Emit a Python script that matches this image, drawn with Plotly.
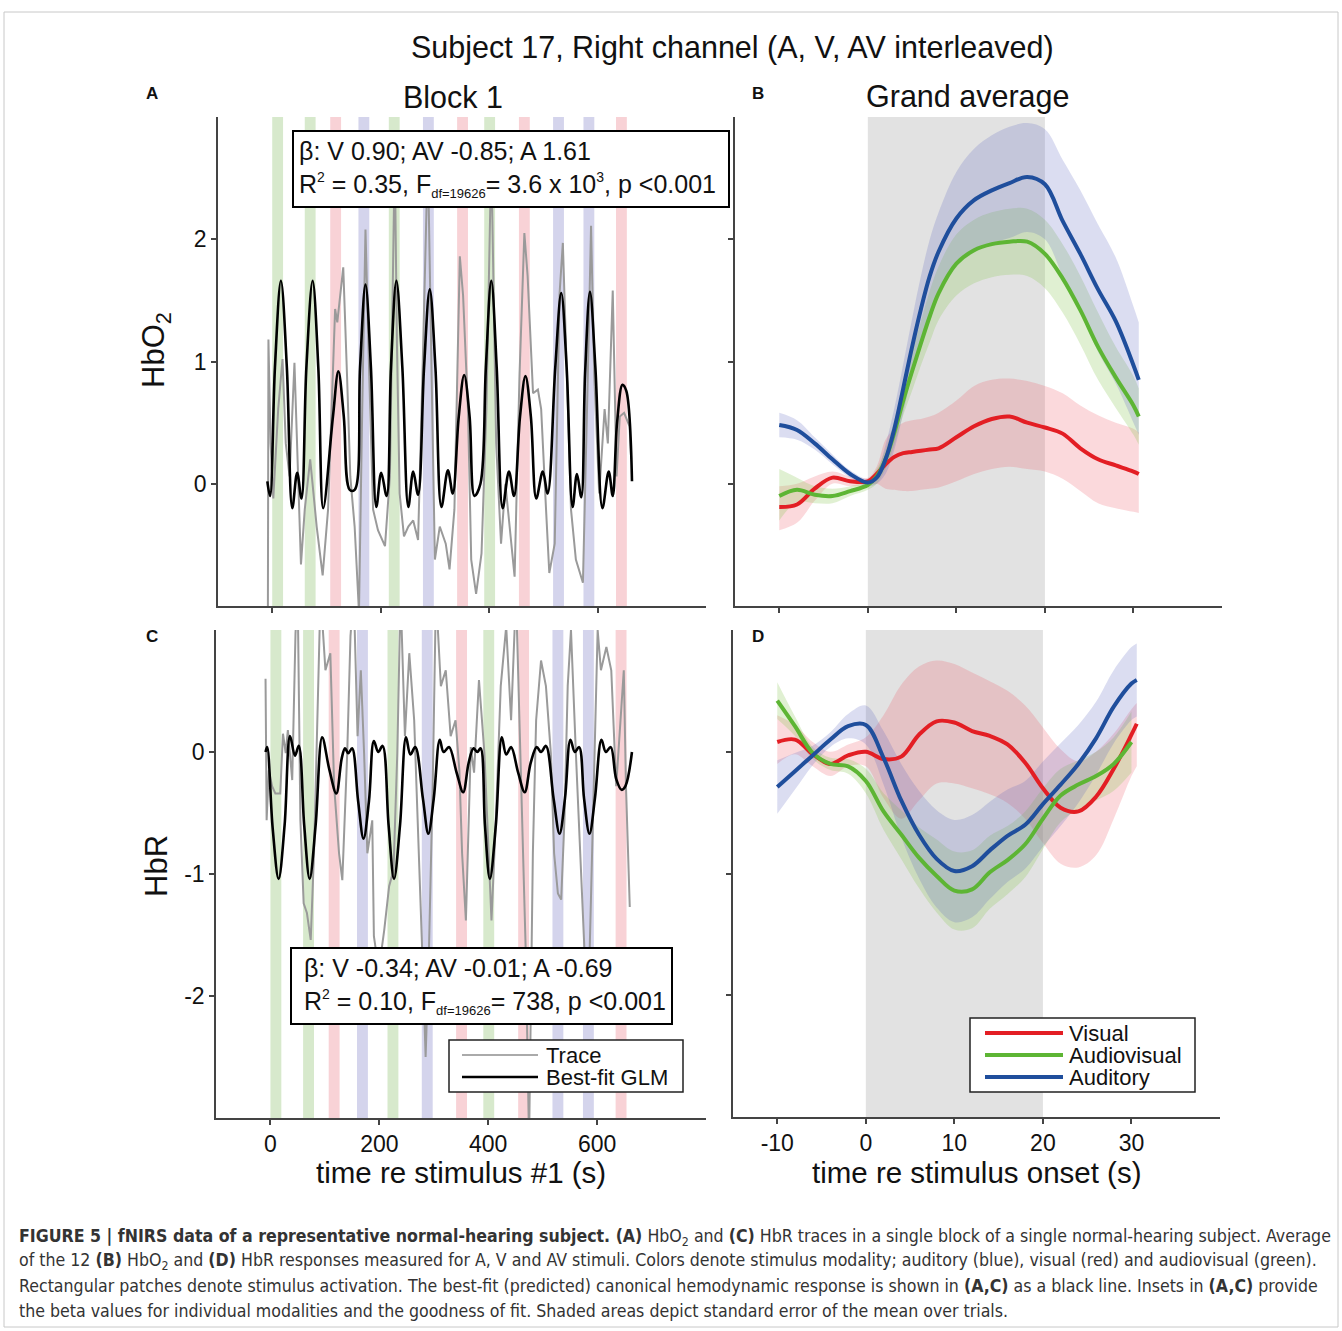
import plotly.graph_objects as go

W, H = 1342, 1331
FONT = "Liberation Sans, Arial, sans-serif"
NARROW = "DejaVu Sans Condensed, Liberation Sans Narrow, sans-serif"

# ---------------- data ----------------
# stimulus onsets (s) and modality for block 1
stim_onsets = [0, 60, 107, 159, 215, 278, 341, 391, 455, 518, 574, 634]
stim_modality = ["AV", "AV", "V", "A", "AV", "A", "V", "AV", "V", "A", "A", "V"]
stim_duration = 20

# Panel A: HbO2 trace and best-fit GLM
tA_trace = [-8, -7, -3, 2, 11, 19, 25, 32, 41, 46, 53, 60, 70, 82, 93, 103, 116, 120, 131, 138,
            144, 152, 160, 166, 172, 179, 186, 195, 208, 217, 226, 230, 235, 243, 251, 260, 269,
            277, 287, 294, 300, 309, 320, 327, 336, 346, 352, 361, 367, 376, 386, 395, 404, 413,
            422, 430, 438, 447, 456, 465, 471, 481, 490, 496, 505, 511, 521, 530, 536, 542, 551,
            560, 573, 582, 588, 594, 603, 613, 619, 628, 635, 641, 649, 659, 662]
A_trace = [-1.05, 1.18, 0.33, -0.12, 0.61, 1.02, 0.33, 0.06, 0.99, 0.33, -0.66, -0.21, 0.20,
           -0.35, -0.75, -0.21, 1.43, 1.32, 1.77, 0.88, 0.06, -0.35, -1.05, 0.61, 2.08, 0.88,
           -0.21, -0.38, -0.51, 0.06, 2.70, 1.15, -0.08, -0.43, -0.35, -0.30, -0.46, 0.88, 2.70,
           0.88, -0.62, -0.35, -0.49, -0.70, -0.21, 1.86, 1.54, 0.61, -0.62, -0.90, -0.57, 0.61,
           2.70, 0.33, -0.49, 0.00, -0.35, -0.76, 0.88, 2.05, 1.70, 0.74, 0.77, 0.61, -0.21,
           -0.73, -0.49, 1.56, 1.97, 1.15, -0.21, -0.62, -0.81, 0.88, 2.11, 0.88, -0.08, 0.61,
           0.33, 1.58, 0.06, 0.55, 0.58, 0.47, 0.20]
tA_fit = [-9, -4, 5, 16, 27, 37, 46, 54, 63, 74.5, 85, 94, 112, 122, 132, 143, 152, 162, 172, 182,
          192, 201, 211, 219, 229, 240, 251, 260, 269, 280, 290.5, 301, 312, 324, 333, 344, 354,
          364, 373, 384, 394, 404, 414, 425, 436.5, 446, 457, 467, 477, 487, 499, 508, 522, 533,
          543, 554, 562, 570, 577, 586, 596, 609, 620.5, 628, 636, 646, 653, 663.5]
A_fit = [0.02, -0.10, 0.95, 1.66, 0.95, -0.20, 0.09, -0.12, 0.95, 1.66, 0.95, -0.20, 0.55, 0.92,
         0.55, -0.05, -0.05, 0.95, 1.63, 0.95, -0.19, 0.09, -0.10, 0.95, 1.66, 0.95, -0.19, 0.10,
         -0.09, 0.95, 1.59, 0.95, -0.19, 0.11, -0.08, 0.55, 0.89, 0.55, -0.10, 0.00, 0.95, 1.66,
         0.95, -0.20, 0.10, -0.10, 0.55, 0.88, 0.55, -0.12, 0.10, -0.08, 0.95, 1.56, 0.95, -0.19,
         0.08, -0.11, 0.90, 1.57, 0.95, -0.20, 0.10, -0.10, 0.50, 0.81, 0.76, 0.02]

# Panel C: HbR trace and best-fit GLM
tC_trace = [-9, -7, -3, 3, 9, 18, 23, 28, 32, 40, 46, 50, 55, 61, 67, 74, 80, 86, 92, 101, 110,
            117, 126, 132, 136, 141, 147, 153, 160, 166, 172, 178, 187, 190, 199, 209, 218, 226,
            233, 239, 247, 255, 264, 273, 281, 285, 291, 298, 304, 313, 322, 331, 340, 347, 352,
            359, 368, 374, 383, 393, 400, 406, 414, 423, 433, 442, 451, 457, 463, 469, 475, 482,
            488, 497, 506, 515, 521, 528, 534, 540, 546, 552, 561, 571, 577, 583, 589, 595, 601,
            607, 617, 626, 635, 643, 649, 653, 660]
C_trace = [0.60, -0.56, -0.15, -0.28, -0.34, -0.34, 0.15, -0.01, 0.18, -0.23, 0.97, 1.30, -0.56,
           -1.24, -1.32, -1.54, -0.83, 0.26, 1.30, 0.67, 0.81, -0.28, -0.83, -1.05, -0.56, -0.01,
           0.95, 1.30, 0.13, 0.67, -0.01, -0.83, -0.56, -1.51, -1.79, -1.46, -1.10, -0.97, -0.01,
           1.30, 0.13, 0.81, 0.26, -0.83, -1.92, -2.50, -1.65, -0.28, 1.30, 0.54, 0.67, 0.13,
           0.26, -0.15, -0.83, -1.38, 0.04, -0.17, 0.59, -0.01, -0.83, -1.38, -0.56, 0.54, 1.03,
           0.26, 1.30, 0.26, -0.56, -1.65, -3.20, -0.83, 0.26, 0.75, 0.54, -0.01, -0.83, -1.16,
           -1.21, -0.56, 0.54, 1.00, -0.01, -1.10, -1.65, -2.22, -1.10, -0.01, 1.00, 0.67, 0.86,
           0.67, -0.28, 0.26, 0.67, -0.28, -1.27]
tC_fit = [-9, -6, 4, 15, 26, 36, 45, 52, 62, 72, 83, 95, 108, 121, 131, 137, 143, 150, 161, 171,
          181, 190, 198, 206, 217, 227, 238, 249, 257, 266, 280, 290, 300, 311, 318, 328, 342, 354,
          364, 373, 380, 386, 394, 403, 414, 425, 433, 442, 455, 467, 478, 489, 497, 506, 520, 531,
          541, 551, 559, 567, 576, 586, 596, 608, 616, 625, 635, 645, 652, 664]
C_fit = [0.00, 0.04, -0.62, -1.04, -0.60, 0.13, -0.03, 0.05, -0.60, -1.04, -0.60, 0.12, -0.14,
         -0.34, -0.05, 0.03, -0.01, 0.03, -0.40, -0.71, -0.40, 0.09, 0.00, 0.05, -0.60, -1.04,
         -0.60, 0.12, -0.02, 0.04, -0.38, -0.67, -0.38, 0.10, 0.00, 0.04, -0.17, -0.33, -0.09,
         0.03, 0.00, 0.03, -0.60, -1.04, -0.60, 0.12, -0.02, 0.04, -0.17, -0.33, -0.09, 0.04,
         0.00, 0.05, -0.38, -0.67, -0.38, 0.10, 0.00, 0.04, -0.38, -0.67, -0.38, 0.10, 0.00,
         0.04, -0.22, -0.31, -0.28, 0.00]

# Panel B: grand average HbO2 (mean, upper, lower SEM bounds)
tB = [-10, -8, -6, -4, -2, 0, 1, 2, 3, 4, 5, 6, 7, 8, 10, 12, 14, 16, 18, 20, 22, 24, 26, 28, 30, 30.6]
B_visual = [-0.19, -0.17, -0.04, 0.05, 0.02, 0.02, 0.08, 0.16, 0.22, 0.25, 0.26, 0.27, 0.28, 0.29,
            0.38, 0.47, 0.53, 0.55, 0.50, 0.46, 0.41, 0.29, 0.20, 0.15, 0.10, 0.08]
B_visual_hi = [-0.02, 0.00, 0.06, 0.10, 0.06, 0.05, 0.14, 0.36, 0.45, 0.50, 0.52, 0.53, 0.55, 0.58,
               0.68, 0.80, 0.85, 0.86, 0.84, 0.80, 0.74, 0.64, 0.56, 0.50, 0.45, 0.42]
B_visual_lo = [-0.38, -0.32, -0.14, 0.00, -0.02, -0.01, 0.00, -0.04, -0.05, -0.06, -0.06, -0.05,
               -0.04, -0.03, 0.02, 0.08, 0.12, 0.14, 0.12, 0.10, 0.04, -0.06, -0.16, -0.20, -0.23,
               -0.24]
B_audiovisual = [-0.10, -0.05, -0.09, -0.10, -0.06, -0.01, 0.06, 0.20, 0.42, 0.68, 0.92, 1.15, 1.37,
                 1.56, 1.80, 1.91, 1.96, 1.98, 1.98, 1.88, 1.68, 1.42, 1.12, 0.87, 0.64, 0.55]
B_audiovisual_hi = [0.12, 0.05, -0.02, -0.04, -0.02, 0.03, 0.12, 0.28, 0.52, 0.80, 1.08, 1.33, 1.58,
                    1.78, 2.04, 2.16, 2.22, 2.25, 2.25, 2.16, 1.96, 1.70, 1.40, 1.12, 0.88, 0.78]
B_audiovisual_lo = [-0.30, -0.15, -0.16, -0.16, -0.10, -0.05, 0.00, 0.12, 0.32, 0.56, 0.76, 0.97,
                    1.16, 1.34, 1.54, 1.64, 1.69, 1.71, 1.70, 1.60, 1.40, 1.14, 0.85, 0.62, 0.40,
                    0.32]
B_auditory = [0.48, 0.44, 0.33, 0.20, 0.08, 0.01, 0.05, 0.20, 0.45, 0.78, 1.12, 1.43, 1.70, 1.90,
              2.17, 2.32, 2.40, 2.46, 2.51, 2.45, 2.15, 1.88, 1.59, 1.33, 0.97, 0.85]
B_auditory_hi = [0.58, 0.52, 0.38, 0.24, 0.11, 0.04, 0.10, 0.32, 0.62, 0.98, 1.35, 1.70, 2.00, 2.22,
                 2.55, 2.74, 2.85, 2.92, 2.95, 2.90, 2.65, 2.40, 2.12, 1.85, 1.45, 1.32]
B_auditory_lo = [0.38, 0.36, 0.28, 0.16, 0.05, -0.02, 0.00, 0.08, 0.28, 0.58, 0.90, 1.16, 1.40,
                 1.58, 1.80, 1.92, 1.97, 2.01, 2.06, 2.00, 1.70, 1.40, 1.08, 0.82, 0.50, 0.40]

# Panel D: grand average HbR
tD = [-10, -8, -6, -4, -2, 0, 2, 4, 6, 8, 10, 12, 14, 16, 18, 20, 22, 24, 26, 28, 30, 30.6]
D_visual = [0.08, 0.10, -0.02, -0.10, -0.03, 0.00, -0.06, -0.04, 0.14, 0.25, 0.24, 0.17, 0.13,
            0.06, -0.09, -0.30, -0.46, -0.49, -0.37, -0.14, 0.14, 0.23]
D_visual_hi = [0.30, 0.22, 0.08, 0.00, 0.06, 0.12, 0.30, 0.55, 0.70, 0.75, 0.72, 0.65, 0.58, 0.50,
               0.38, 0.20, 0.02, -0.08, 0.00, 0.15, 0.35, 0.40]
D_visual_lo = [-0.10, -0.02, -0.12, -0.20, -0.12, -0.12, -0.38, -0.55, -0.40, -0.26, -0.26, -0.30,
               -0.35, -0.42, -0.55, -0.75, -0.92, -0.95, -0.85, -0.55, -0.20, -0.12]
tD_av = [-10, -8, -6, -4, -2, 0, 2, 4, 6, 8, 10, 12, 14, 16, 18, 20, 22, 24, 26, 28, 30]
D_audiovisual = [0.42, 0.21, -0.01, -0.10, -0.12, -0.24, -0.49, -0.68, -0.87, -1.02, -1.14, -1.13,
                 -0.99, -0.89, -0.76, -0.55, -0.36, -0.27, -0.20, -0.10, 0.08]
D_audiovisual_hi = [0.57, 0.29, 0.04, -0.05, -0.06, -0.14, -0.34, -0.48, -0.62, -0.72, -0.82,
                    -0.81, -0.69, -0.61, -0.49, -0.30, -0.14, -0.07, 0.00, 0.12, 0.33]
D_audiovisual_lo = [0.27, 0.13, -0.06, -0.15, -0.18, -0.34, -0.64, -0.88, -1.12, -1.32, -1.46,
                    -1.45, -1.29, -1.17, -1.03, -0.80, -0.58, -0.47, -0.40, -0.32, -0.17]
D_auditory = [-0.29, -0.16, -0.03, 0.10, 0.21, 0.22, -0.05, -0.40, -0.68, -0.88, -0.98, -0.94,
              -0.81, -0.69, -0.60, -0.43, -0.27, -0.10, 0.11, 0.37, 0.56, 0.59]
D_auditory_hi = [-0.07, -0.01, 0.05, 0.16, 0.31, 0.38, 0.17, -0.10, -0.32, -0.48, -0.56, -0.52,
                 -0.41, -0.31, -0.24, -0.08, 0.07, 0.22, 0.41, 0.67, 0.86, 0.89]
D_auditory_lo = [-0.51, -0.31, -0.11, 0.04, 0.11, 0.06, -0.27, -0.70, -1.04, -1.28, -1.40, -1.36,
                 -1.21, -1.07, -0.96, -0.78, -0.61, -0.42, -0.19, 0.07, 0.26, 0.29]

stim_window = [0, 20]

# ticks
tickA_x = [0, 200, 400, 600]
tickA_y = [0, 1, 2]
tickC_y = [-2, -1, 0]
tickC_y_text = ["-2", "-1", "0"]
tickB_x = [-10, 0, 10, 20, 30]
tickB_x_text = ["-10", "0", "10", "20", "30"]

# ---------------- styling ----------------
RED, GREEN, BLUE = "#e31e24", "#5db534", "#1f4e9c"
FILL = {"V": "rgba(235,80,95,0.22)", "AV": "rgba(140,200,90,0.27)", "A": "rgba(90,100,190,0.22)"}
STIM = {"AV": "#d7e9cc", "V": "#f8d2d6", "A": "#d4d4ec"}
AX = "#444444"


def px(x):
    return x / W


def py(y):
    return 1 - y / H


fig = go.Figure()

fig.add_trace(go.Scatter(x=tA_trace, y=A_trace, mode="lines", line=dict(color="#9a9a9a", width=2),
                         xaxis="x", yaxis="y", showlegend=False, hoverinfo="skip"))
fig.add_trace(go.Scatter(x=tA_fit, y=A_fit, mode="lines", line=dict(color="black", width=2.6, shape="spline", smoothing=1.0),
                         xaxis="x", yaxis="y", showlegend=False))
fig.add_trace(go.Scatter(x=tC_trace, y=C_trace, mode="lines", line=dict(color="#9a9a9a", width=2),
                         xaxis="x3", yaxis="y3", showlegend=False, hoverinfo="skip"))
fig.add_trace(go.Scatter(x=tC_fit, y=C_fit, mode="lines", line=dict(color="black", width=2.6, shape="spline", smoothing=1.0),
                         xaxis="x3", yaxis="y3", showlegend=False))


def band(t, hi, lo, color, xa, ya):
    fig.add_trace(go.Scatter(x=t, y=hi, mode="lines", line=dict(width=0, shape="spline"), xaxis=xa, yaxis=ya,
                             showlegend=False, hoverinfo="skip"))
    fig.add_trace(go.Scatter(x=t, y=lo, mode="lines", line=dict(width=0, shape="spline"), fill="tonexty",
                             fillcolor=color, xaxis=xa, yaxis=ya, showlegend=False, hoverinfo="skip"))


band(tB, B_visual_hi, B_visual_lo, FILL["V"], "x2", "y2")
band(tB, B_audiovisual_hi, B_audiovisual_lo, FILL["AV"], "x2", "y2")
band(tB, B_auditory_hi, B_auditory_lo, FILL["A"], "x2", "y2")
band(tD, D_visual_hi, D_visual_lo, FILL["V"], "x4", "y4")
band(tD_av, D_audiovisual_hi, D_audiovisual_lo, FILL["AV"], "x4", "y4")
band(tD, D_auditory_hi, D_auditory_lo, FILL["A"], "x4", "y4")

for t, yv, c, name in [(tB, B_visual, RED, "Visual"), (tB, B_audiovisual, GREEN, "Audiovisual"),
                       (tB, B_auditory, BLUE, "Auditory")]:
    fig.add_trace(go.Scatter(x=t, y=yv, mode="lines", name=name, line=dict(color=c, width=4, shape="spline"),
                             xaxis="x2", yaxis="y2", showlegend=False))
for t, yv, c, name in [(tD, D_visual, RED, "Visual"), (tD_av, D_audiovisual, GREEN, "Audiovisual"),
                       (tD, D_auditory, BLUE, "Auditory")]:
    fig.add_trace(go.Scatter(x=t, y=yv, mode="lines", name=name, line=dict(color=c, width=4, shape="spline"),
                             xaxis="x4", yaxis="y4", showlegend=False))

shapes = []
for xa, ya in [("x", "y"), ("x3", "y3")]:
    for on, mod in zip(stim_onsets, stim_modality):
        shapes.append(dict(type="rect", xref=xa, yref=ya + " domain", x0=on, x1=on + stim_duration, y0=0, y1=1,
                           fillcolor=STIM[mod], line=dict(width=0), layer="below"))
for xa, ya in [("x2", "y2"), ("x4", "y4")]:
    shapes.append(dict(type="rect", xref=xa, yref=ya + " domain", x0=stim_window[0], x1=stim_window[1],
                       y0=0, y1=1, fillcolor="#e2e2e2", line=dict(width=0), layer="below"))

shapes.append(dict(type="rect", xref="paper", yref="paper", x0=px(4), x1=px(1338), y0=py(1327), y1=py(12),
                   line=dict(color="#c8c8c8", width=1)))

annotations = []


def text(x, y, s, size, xanchor="center", yanchor="middle", bold=False, color="#111", family=FONT, angle=0):
    annotations.append(dict(x=px(x), y=py(y), xref="paper", yref="paper", text=("<b>%s</b>" % s) if bold else s,
                            showarrow=False, xanchor=xanchor, yanchor=yanchor, textangle=angle,
                            font=dict(size=size, color=color, family=family)))


# legend in C (drawn by hand to match the long line samples)
shapes.append(dict(type="rect", xref="paper", yref="paper", x0=px(449), x1=px(683), y0=py(1092), y1=py(1040),
                   line=dict(color="#222", width=1.5), fillcolor="white"))
shapes.append(dict(type="line", xref="paper", yref="paper", x0=px(462), x1=px(538), y0=py(1055), y1=py(1055),
                   line=dict(color="#aaaaaa", width=2)))
shapes.append(dict(type="line", xref="paper", yref="paper", x0=px(462), x1=px(538), y0=py(1077), y1=py(1077),
                   line=dict(color="black", width=2.5)))
text(544, 1055, "Trace", 22, xanchor="left")
text(544, 1077, "Best-fit GLM", 22, xanchor="left")

# legend in D
shapes.append(dict(type="rect", xref="paper", yref="paper", x0=px(970), x1=px(1195), y0=py(1092), y1=py(1018),
                   line=dict(color="#222", width=1.5), fillcolor="white"))
for yy, c, lab in [(1033, RED, "Visual"), (1055, GREEN, "Audiovisual"), (1077, BLUE, "Auditory")]:
    shapes.append(dict(type="line", xref="paper", yref="paper", x0=px(985), x1=px(1063), y0=py(yy), y1=py(yy),
                       line=dict(color=c, width=4)))
    text(1067, yy, lab, 22, xanchor="left")

# inset boxes
SUB = '<sub><span style="font-size:13px">df=19626</span></sub>'
SUP2 = '<sup><span style="font-size:14px">2</span></sup>'
SUP3 = '<sup><span style="font-size:14px">3</span></sup>'
annotations.append(dict(x=px(292), y=py(130), xref="paper", yref="paper", xanchor="left", yanchor="top",
                        showarrow=False, align="left", bgcolor="white", bordercolor="black", borderwidth=2,
                        borderpad=5,
                        text="β: V 0.90; AV -0.85; A 1.61<br>R" + SUP2 + " = 0.35, F" + SUB + "= 3.6 x 10" + SUP3 + ", p &lt;0.001 ",
                        font=dict(size=25, color="#111", family=FONT)))
annotations.append(dict(x=px(290), y=py(947), xref="paper", yref="paper", xanchor="left", yanchor="top",
                        showarrow=False, align="left", bgcolor="white", bordercolor="black", borderwidth=2,
                        borderpad=5,
                        text=" β: V -0.34; AV -0.01; A -0.69<br> R" + SUP2 + " = 0.10, F" + SUB + "= 738, p &lt;0.001",
                        font=dict(size=25, color="#111", family=FONT)))

# titles and labels
text(732, 47, "Subject 17, Right channel (A, V, AV interleaved)", 30.5)
text(453, 97, "Block 1", 30.5)
text(967, 97, "Grand average", 30.5)
text(152, 93, "A", 17, bold=True)
text(758, 93, "B", 17, bold=True)
text(152, 636, "C", 17, bold=True)
text(758, 636, "D", 17, bold=True)
text(156, 350, "HbO<sub>2</sub>", 31, angle=-90)
text(156, 866, "HbR", 31, angle=-90)
text(461, 1172, "time re stimulus #1 (s)", 29.5)
text(977, 1172, "time re stimulus onset (s)", 29.5)

cap = [
    "<b>FIGURE 5 | fNIRS data of a representative normal-hearing subject. (A)</b> HbO<sub>2</sub> and <b>(C)</b> HbR traces in a single block of a single normal-hearing subject. Average",
    "of the 12 <b>(B)</b> HbO<sub>2</sub> and <b>(D)</b> HbR responses measured for A, V and AV stimuli. Colors denote stimulus modality; auditory (blue), visual (red) and audiovisual (green).",
    "Rectangular patches denote stimulus activation. The best-fit (predicted) canonical hemodynamic response is shown in <b>(A,C)</b> as a black line. Insets in <b>(A,C)</b> provide",
    "the beta values for individual modalities and the goodness of fit. Shaded areas depict standard error of the mean over trials.",
]
for i, line in enumerate(cap):
    text(17, 1237 + i * 24.7, line, 17.6, xanchor="left", color="#333", family=NARROW)

axis_common = dict(showline=True, linecolor=AX, linewidth=1.5, ticks="outside", ticklen=5, tickwidth=1.5,
                   tickcolor=AX, showgrid=False, zeroline=False, tickfont=dict(size=23, color="#111", family=FONT))

fig.update_layout(
    width=W, height=H, margin=dict(l=0, r=0, t=0, b=0), paper_bgcolor="white", plot_bgcolor="rgba(0,0,0,0)",
    font=dict(family=FONT), showlegend=False,
    xaxis=dict(domain=[px(218), px(706)], range=[-100, 800], tickvals=tickA_x, showticklabels=False, anchor="y", **axis_common),
    yaxis=dict(domain=[py(606), py(117)], range=[-1, 3], tickvals=tickA_y, anchor="x", **axis_common),
    xaxis2=dict(domain=[px(735), px(1222)], range=[-15, 40], tickvals=tickB_x, showticklabels=False, anchor="y2", **axis_common),
    yaxis2=dict(domain=[py(606), py(117)], range=[-1, 3], tickvals=tickA_y, showticklabels=False, anchor="x2", **axis_common),
    xaxis3=dict(domain=[px(216), px(706)], range=[-100, 800], tickvals=tickA_x, anchor="y3", **axis_common),
    yaxis3=dict(domain=[py(1118), py(630)], range=[-3, 1], tickvals=tickC_y, ticktext=tickC_y_text, anchor="x3", **axis_common),
    xaxis4=dict(domain=[px(733), px(1220)], range=[-15, 40], tickvals=tickB_x, ticktext=tickB_x_text, anchor="y4", **axis_common),
    yaxis4=dict(domain=[py(1117), py(630)], range=[-3, 1], tickvals=tickC_y, showticklabels=False, anchor="x4", **axis_common),
    shapes=shapes, annotations=annotations,
)

fig.write_html("out.html")
